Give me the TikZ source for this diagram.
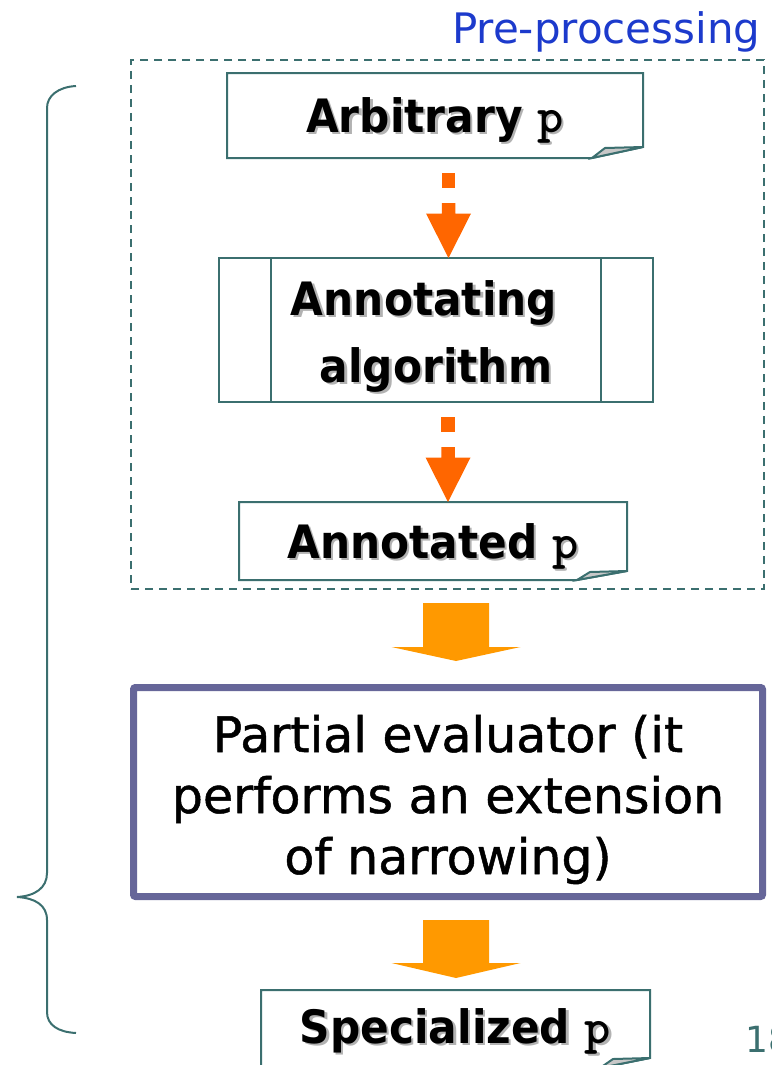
\documentclass[tikz,border=0pt]{standalone}
\usepackage{fontspec}
\setmainfont{DejaVu Sans}
\newfontfamily\lblfont{DejaVu Sans}[FakeStretch=0.92]
\newfontfamily\pefont{DejaVu Sans}[FakeBold=1]
\usetikzlibrary{calc}

\definecolor{tealline}{RGB}{59,111,111}
\definecolor{flapgray}{RGB}{200,200,200}
\definecolor{darkorange}{RGB}{255,102,0}
\definecolor{amber}{RGB}{255,153,0}
\definecolor{slatepurple}{RGB}{102,102,153}
\definecolor{titleblue}{RGB}{28,58,204}
\definecolor{shadowgray}{RGB}{178,178,178}

% text with a soft grey drop shadow
\newcommand{\shtxt}[1]{\leavevmode\rlap{\kern2.2pt\raisebox{-2.2pt}{\color{shadowgray}#1}}#1}
% the program name, set in a heavy typewriter face
\newcommand{\progp}{{\ttfamily\bfseries\addfontfeature{FakeBold=2}\fontsize{50}{50}\selectfont p}}

% outline of a document box with a folded lower-right corner
\newcommand{\foldbox}[3]{%
  \draw[boxline] (#1.north west) -- (#1.north east) -- ($(#1.south east)+(0,-#3)$)
    -- ($(#1.south east)+(-#2,0)$) -- (#1.south west) -- cycle;
  \filldraw[boxline, fill=flapgray] ($(#1.south east)+(-#2,0)$) -- ($(#1.south east)+(0,-#3)$)
    -- ($(#1.south east)+(-#2+13,-#3+1)$) -- cycle;}

% dashed orange arrow: one square dash, then a short shaft with a head
\newcommand{\dasharrow}[2]{%
  \fill[darkorange] ($(#1)+(-6.75,15)$) rectangle ($(#1)+(6.75,30)$);
  \fill[darkorange] ($(#1)+(-6.75,45)$) -- ($(#1)+(6.75,45)$) -- ($(#2)+(6.75,-44.5)$)
    -- ($(#2)+(22.5,-44.5)$) -- (#2) -- ($(#2)+(-22.5,-44.5)$) -- ($(#2)+(-6.75,-44.5)$) -- cycle;}

% broad block arrow: start, tip, half shaft width, half head width, head length
\newcommand{\blockarrow}[5]{%
  \fill[amber] ($(#1)+(-#3,0)$) -- ($(#1)+(#3,0)$) -- ($(#2)+(#3,-#5)$) -- ($(#2)+(#4,-#5)$)
    -- (#2) -- ($(#2)+(-#4,-#5)$) -- ($(#2)+(-#3,-#5)$) -- cycle;}

\begin{document}
\begin{tikzpicture}[x=1pt, y=-1pt,
  boxline/.style={draw=tealline, line width=2pt, line join=miter},
  docnode/.style={inner sep=0pt, outer sep=0pt, text depth=0pt,
    font=\lblfont\bfseries\fontsize{46}{50}\selectfont},
  procnode/.style={boxline, inner sep=0pt, outer sep=0pt, align=center,
    font=\lblfont\bfseries\fontsize{46}{67}\selectfont}]

\useasboundingbox (0,0) rectangle (771,1065);

% heading and the dashed frame of the pre-processing stage
\node[anchor=base west, inner sep=0pt, text=titleblue, font=\fontsize{42}{50}\selectfont]
  (title) at (452,43.3) {Pre-processing};
\node[draw=tealline, line width=2pt, dash pattern=on 8pt off 6pt, inner sep=0pt, outer sep=0pt,
  minimum width=633pt, minimum height=529pt] (prebox) at (447.5,324.5) {};

% documents and processes
\node[docnode, minimum width=416pt, minimum height=85pt, text height=33pt]
  (arb) at (435,115.5) {\shtxt{Arbitrary \progp}};
\foldbox{arb}{51}{11}

\node[procnode, minimum width=434pt, minimum height=144pt, text height=104pt, text depth=0pt]
  (annalgo) at (436,330) {\shtxt{Annotating}\kern24pt\\\shtxt{algorithm}};
\draw[boxline] ([xshift=52pt]annalgo.north west) -- ([xshift=52pt]annalgo.south west);
\draw[boxline] ([xshift=-52pt]annalgo.north east) -- ([xshift=-52pt]annalgo.south east);

\node[docnode, minimum width=388pt, minimum height=78pt, text height=35pt]
  (annp) at (433,541) {\shtxt{Annotated \progp}};
\foldbox{annp}{50}{9}

\node[draw=slatepurple, line width=7pt, rounded corners=2pt, inner sep=0pt, outer sep=0pt,
  minimum width=629pt, minimum height=209pt, align=center, text height=164pt, text depth=0pt,
  font=\pefont\fontsize{49}{61}\selectfont]
  (pe) at (448,792) {Partial evaluator (it\\performs an extension\\of narrowing)};

\node[docnode, minimum width=389pt, minimum height=78pt, text height=28pt]
  (spec) at (455.5,1029) {\shtxt{Specialized \progp}};
\foldbox{spec}{50}{10}

% connectors
\coordinate (d1s) at ($(arb.south)+(13.5,0)$);
\coordinate (d1t) at (d1s |- annalgo.north);
\dasharrow{d1s}{d1t}

\coordinate (d2s) at ($(annalgo.south)+(12,0)$);
\coordinate (d2t) at (d2s |- annp.north);
\dasharrow{d2s}{d2t}

\coordinate (b1s) at ($(prebox.south)+(8.5,14)$);
\coordinate (b1t) at ($(b1s |- pe.north)+(0,-26.5)$);
\blockarrow{b1s}{b1t}{33}{64.5}{14}

\coordinate (b2s) at ($(pe.south)+(8,23.5)$);
\coordinate (b2t) at ($(b2s |- spec.north)+(0,-12)$);
\blockarrow{b2s}{b2t}{33}{64.5}{15}

% curly brace spanning the whole chain
\draw[tealline, line width=2pt] (76,86) .. controls (58,87) and (47,96) .. (47,108)
  -- (47,873) .. controls (47,888) and (35,896) .. (17,897)
  .. controls (35,898) and (47,905) .. (47,920)
  -- (47,1012) .. controls (47,1025) and (58,1032) .. (76,1033);

% page number
\node[anchor=base west, inner sep=0pt, text=tealline, font=\fontsize{36}{40}\selectfont]
  (pgno) at (745.7,1052) {18};
\end{tikzpicture}
\end{document}
